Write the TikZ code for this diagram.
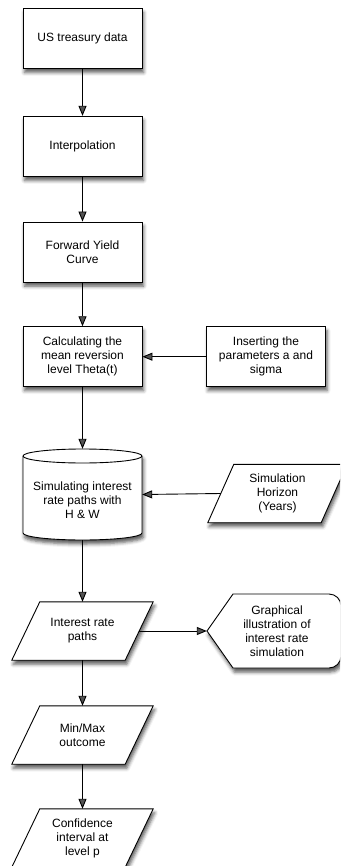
\documentclass[tikz,border=0pt]{standalone}
\usepackage{fontspec}
\setmainfont{Liberation Sans}
\usetikzlibrary{arrows.meta,shadows.blur}
\begin{document}
\begin{tikzpicture}[x=1pt,y=1pt,
  shad/.style={blur shadow={shadow xshift=1.5pt, shadow yshift=-4pt, shadow blur radius=3.5pt, shadow opacity=65}},
  txt/.style={align=center, font=\fontsize{12}{14}\selectfont, inner sep=0pt},
  box/.style={txt, draw=black, fill=white, line width=0.9pt, minimum width=119pt, minimum height=60pt, shad},
  fig/.style={draw=black, fill=white, line width=0.9pt, shad},
  para/.style={txt, minimum width=113pt, minimum height=58pt},
  conn/.style={line width=0.9pt, -{Triangle[length=10pt,width=8pt]}}]
\useasboundingbox (0,0) rectangle (340,-866);
\clip (0,0) rectangle (340,-866);

% rectangles
\node[box] (us)   at (82.5,-38.5)  {US treasury data};
\node[box] (itp)  at (82.5,-146.3) {Interpolation};
\node[box] (fyc)  at (82.5,-252)   {Forward Yield\\Curve};
\node[box] (calc) at (82.5,-356.7) {Calculating the\\mean reversion\\level Theta(t)};
\node[box] (ins)  at (266,-356.7)  {Inserting the\\parameters a and\\sigma};

% cylinder
\node[minimum width=119pt, minimum height=91pt, inner sep=0pt] (cyl) at (82.5,-494.5) {};
\draw[fig] (23,-456) -- (23,-533) arc[start angle=180, end angle=360, x radius=59.5, y radius=7]
  -- (142,-456) arc[start angle=0, end angle=180, x radius=59.5, y radius=7] -- cycle;
\draw[line width=0.9pt] (23,-456) arc[start angle=180, end angle=360, x radius=59.5, y radius=7];
\node[txt] (cyltx) at (82.5,-500) {Simulating interest\\rate paths with\\H \& W};

% simulation horizon (parallelogram)
\node[para] (sh) at (277.5,-493.5) {};
\draw[fig] ([xshift=-13pt]sh.south west) -- ([xshift=13pt]sh.north west) -- ([xshift=13pt]sh.north east) -- ([xshift=-13pt]sh.south east) -- cycle;
\node[txt] (shtx) at (sh.center) {Simulation\\Horizon\\(Years)};

% interest rate paths
\node[para] (irp) at (82.5,-631) {};
\draw[fig] ([xshift=-14pt]irp.south west) -- ([xshift=14pt]irp.north west) -- ([xshift=14pt]irp.north east) -- ([xshift=-14pt]irp.south east) -- cycle;
\node[txt] (irptx) at (irp.center) {Interest rate\\paths};

% graphical display
\node[txt, minimum width=140pt, minimum height=74pt] (gr) at (277,-631) {};
\draw[fig] (207,-631) -- (233,-594) -- (329,-594) arc[start angle=90, end angle=0, radius=12]
  -- (341,-656) arc[start angle=0, end angle=-90, radius=12] -- (233,-668) -- cycle;
\node[txt] (grtx) at (gr.center) {Graphical\\illustration of\\interest rate\\simulation};

% min/max
\node[para] (mm) at (82.5,-735) {};
\draw[fig] ([xshift=-14pt]mm.south west) -- ([xshift=14pt]mm.north west) -- ([xshift=14pt]mm.north east) -- ([xshift=-14pt]mm.south east) -- cycle;
\node[txt] (mmtx) at (mm.center) {Min/Max\\outcome};

% confidence
\node[para] (ci) at (82.5,-838) {};
\draw[fig] ([xshift=-14pt]ci.south west) -- ([xshift=14pt]ci.north west) -- ([xshift=14pt]ci.north east) -- ([xshift=-14pt]ci.south east) -- cycle;
\node[txt] (citx) at (ci.center) {Confidence\\interval at\\level p};

% connectors
\draw[conn] (us) -- (itp);
\draw[conn] (itp) -- (fyc);
\draw[conn] (fyc) -- (calc);
\draw[conn] (ins) -- (calc);
\draw[conn] (calc) -- (cyl);
\draw[conn] (sh.west) -- (cyl.east);
\draw[conn] (cyl) -- (irp);
\draw[conn] (irp.east) -- (gr.west);
\draw[conn] (irp) -- (mm);
\draw[conn] (mm) -- (ci);
\end{tikzpicture}
\end{document}
